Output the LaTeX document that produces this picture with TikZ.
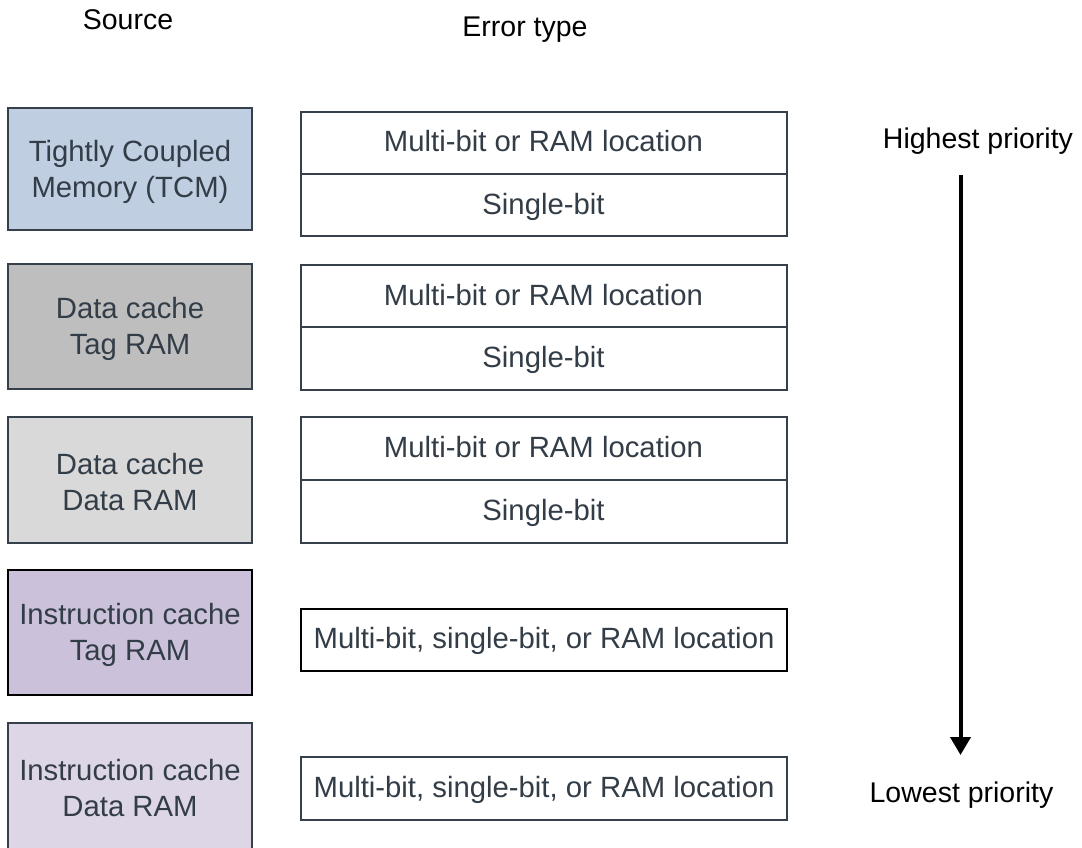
\documentclass[tikz,border=0pt]{standalone}
\usepackage{fontspec}
\setmainfont{Liberation Sans}
\usetikzlibrary{arrows.meta}
\definecolor{edgegray}{HTML}{36404A}
\definecolor{txtgray}{HTML}{333D47}
\definecolor{fillA}{HTML}{BFCEE0}
\definecolor{fillB}{HTML}{BEBEBE}
\definecolor{fillC}{HTML}{D9D9D9}
\definecolor{fillD}{HTML}{CBC1DA}
\definecolor{fillE}{HTML}{DDD6E6}
\tikzset{
  boxfont/.style={font=\fontsize{29.3}{36}\selectfont},
  srcbox/.style={draw=edgegray, line width=2pt, minimum width=244pt, inner sep=0pt},
  srctext/.style={boxfont, text=txtgray, align=center, inner sep=0pt, yshift=-2.5pt},
  errcell/.style={boxfont, draw=edgegray, fill=white, line width=2pt, text=txtgray,
    minimum width=486pt, inner sep=0pt, text height=21pt, text depth=3pt},
  header/.style={font=\fontsize{28.5}{34}\selectfont, text=black, anchor=base, inner sep=0pt},
  prioarrow/.style={line width=4pt, -{Triangle[width=20pt,length=18pt]}}
}
\begin{document}
\begin{tikzpicture}[x=1pt,y=-1pt]
\useasboundingbox (0,0) rectangle (1082,848);
% headers
\node[header] (hsrc) at (128,30) {Source};
\node[header] (herr) at (525,37) {Error type};
% source boxes
\node[srcbox, fill=fillA, minimum height=122pt,
  label={[srctext]center:{Tightly Coupled\\Memory (TCM)}}] (tcm) at (130,169) {};
\node[srcbox, fill=fillB, minimum height=125pt,
  label={[srctext]center:{Data cache\\Tag RAM}}] (dtag) at (130,326.5) {};
\node[srcbox, fill=fillC, minimum height=126pt,
  label={[srctext]center:{Data cache\\Data RAM}}] (ddata) at (130,479.5) {};
\node[srcbox, fill=fillD, draw=black, minimum height=125pt,
  label={[srctext]center:{Instruction cache\\Tag RAM}}] (itag) at (130,632.5) {};
\node[srcbox, fill=fillE, minimum height=126pt,
  label={[srctext]center:{Instruction cache\\Data RAM}}] (idata) at (130,786) {};
% error cells
\node[errcell, minimum height=62pt] (e1a) at (543.5,143) {Multi-bit or RAM location};
\node[errcell, minimum height=62pt] (e1b) at (543.5,205) {Single-bit};
\node[errcell, minimum height=62pt] (e2a) at (543.5,296) {Multi-bit or RAM location};
\node[errcell, minimum height=63pt] (e2b) at (543.5,358.5) {Single-bit};
\node[errcell, minimum height=63pt] (e3a) at (543.5,448.5) {Multi-bit or RAM location};
\node[errcell, minimum height=63pt] (e3b) at (543.5,511.5) {Single-bit};
\node[errcell, draw=black, minimum height=62pt] (e4) at (544,639.5) {Multi-bit, single-bit, or RAM location};
\node[errcell, minimum height=63pt] (e5) at (544,788.5) {Multi-bit, single-bit, or RAM location};
% priority
\node[header] (hi) at (978,149) {Highest priority};
\node[header] (lo) at (961.5,802) {Lowest priority};
\coordinate (atop) at (960.5,175);
\coordinate (abot) at (960.5,755);
\draw[prioarrow] (atop) -- (abot);
\end{tikzpicture}
\end{document}
